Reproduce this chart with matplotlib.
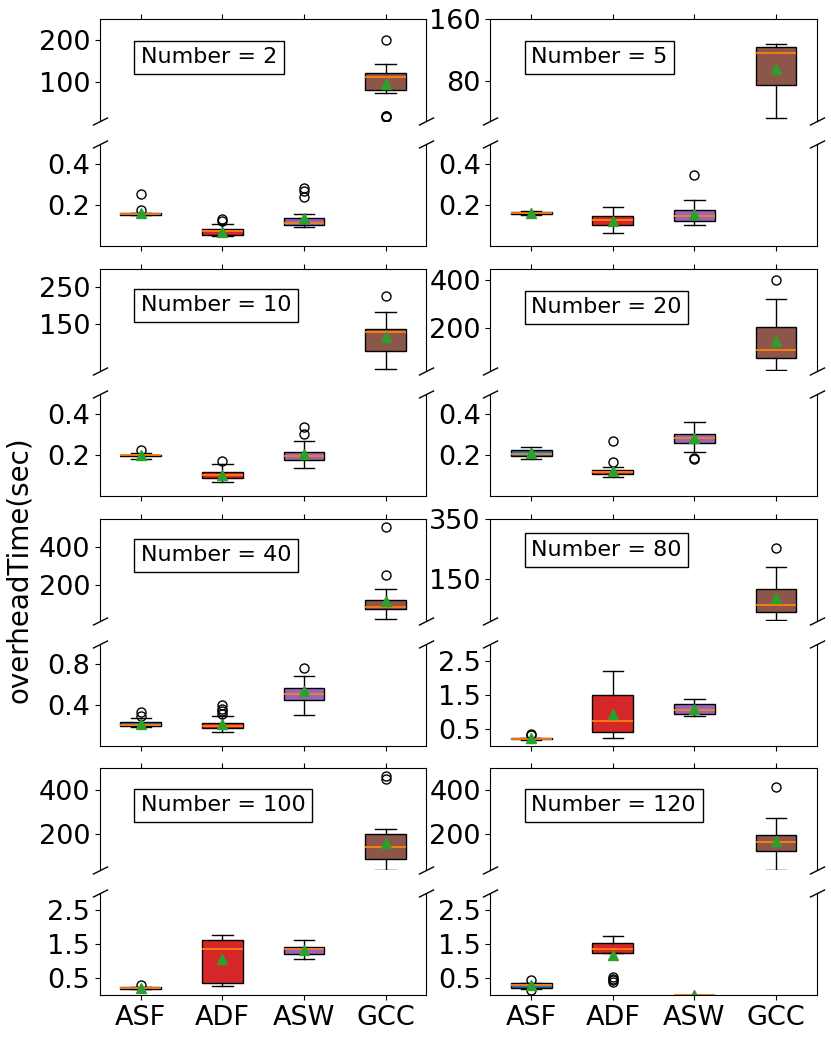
## Broken-axis boxplots of overhead time

import matplotlib
matplotlib.use('Agg')
import matplotlib.pyplot as plt

categories = ['ASF', 'ADF', 'ASW', 'GCC']
numbers = [2, 5, 10, 20, 40, 80, 100, 120]
box_colors = ['tab:blue', 'tab:red', 'tab:purple', 'tab:brown']

# box statistics per panel, one value per category (ASF, ADF, ASW, GCC)
q1 = [[0.152, 0.054, 0.103, 81.6],
      [0.155, 0.099, 0.120, 76.0],
      [0.193, 0.086, 0.173, 78.5],
      [0.195, 0.104, 0.257, 74.4],
      [0.193, 0.171, 0.450, 73.0],
      [0.18, 0.40, 0.94, 42.2],
      [0.20, 0.37, 1.23, 89.0],
      [0.23, 1.26, 0.0, 126.0]]
med = [[0.155, 0.070, 0.111, 113.8],
       [0.160, 0.127, 0.144, 116.0],
       [0.197, 0.100, 0.192, 129.5],
       [0.206, 0.115, 0.280, 105.0],
       [0.206, 0.194, 0.505, 87.0],
       [0.20, 0.72, 1.05, 66.5],
       [0.23, 1.36, 1.36, 144.0],
       [0.30, 1.37, 0.0, 165.0]]
q3 = [[0.158, 0.083, 0.135, 121.7],
      [0.165, 0.144, 0.173, 123.8],
      [0.200, 0.118, 0.216, 137.4],
      [0.224, 0.125, 0.302, 202.7],
      [0.228, 0.219, 0.562, 121.7],
      [0.22, 1.49, 1.22, 117.0],
      [0.25, 1.62, 1.43, 200.0],
      [0.37, 1.55, 0.0, 197.0]]
whislo = [[0.150, 0.045, 0.091, 75.6],
          [0.150, 0.064, 0.099, 33.4],
          [0.180, 0.069, 0.137, 29.5],
          [0.177, 0.089, 0.213, 24.0],
          [0.180, 0.133, 0.298, 22.0],
          [0.17, 0.23, 0.86, 18.0],
          [0.19, 0.28, 1.07, 38.0],
          [0.20, 1.25, 0.0, 38.0]]
whishi = [[0.160, 0.104, 0.155, 143.0],
          [0.170, 0.190, 0.224, 127.9],
          [0.210, 0.156, 0.268, 182.0],
          [0.240, 0.138, 0.362, 322.5],
          [0.267, 0.289, 0.686, 179.0],
          [0.23, 2.18, 1.37, 189.6],
          [0.26, 1.78, 1.63, 225.0],
          [0.38, 1.76, 0.0, 272.0]]
means = [[0.162, 0.066, 0.137, 97.0],
         [0.162, 0.123, 0.155, 96.4],
         [0.200, 0.100, 0.205, 116.0],
         [0.210, 0.120, 0.280, 145.0],
         [0.210, 0.210, 0.530, 118.0],
         [0.22, 0.94, 1.06, 88.0],
         [0.22, 1.06, 1.33, 160.0],
         [0.30, 1.20, 0.0, 168.0]]
fliers = [[[0.176, 0.251], [0.123, 0.131], [0.238, 0.267, 0.284], [18.0, 20.0, 22.0, 200.7]],
          [[], [], [0.347], []],
          [[0.224], [0.168], [0.300, 0.334], [226.0]],
          [[], [0.167, 0.266], [0.180, 0.185], [400.0]],
          [[0.29, 0.33], [0.31, 0.34, 0.36, 0.40], [0.758], [255.0, 505.0]],
          [[0.30, 0.33], [], [], [254.0]],
          [[0.30], [], [], [452.0, 464.0]],
          [[0.17, 0.45], [0.40, 0.45, 0.48, 0.55], [], [415.0]]]

# axis ranges and ticks for the upper (GCC) and lower part of each panel
top_ylim = [(10, 250), (30, 160), (25, 300), (20, 450), (15, 550), (15, 350), (35, 500), (35, 500)]
top_ticks = [[100, 200], [80, 160], [150, 250], [200, 400], [200, 400], [150, 350], [200, 400], [200, 400]]
bot_ylim = [(0, 0.5), (0, 0.5), (0, 0.5), (0, 0.5), (0, 1.0), (0, 3), (0, 3), (0, 3)]
bot_ticks = [[0.2, 0.4], [0.2, 0.4], [0.2, 0.4], [0.2, 0.4], [0.4, 0.8],
             [0.5, 1.5, 2.5], [0.5, 1.5, 2.5], [0.5, 1.5, 2.5]]
label_y = [0.62, 0.62, 0.64, 0.62, 0.64, 0.69, 0.64, 0.64]

fig, axes = plt.subplots(8, 2, figsize=(8.31, 10.38), dpi=100)
fig.subplots_adjust(left=0.1203, right=0.983, top=0.982, bottom=0.041,
                    wspace=0.196, hspace=0.225)

positions = [1, 2, 3, 4]
brk = dict(marker=[(-1, -0.5), (1, 0.5)], markersize=11, linestyle='none',
           color='k', mec='k', mew=1, clip_on=False)


def draw_boxes(ax, stats, pos, colors):
    bp = ax.bxp(stats, positions=pos, widths=0.5, patch_artist=True,
                showmeans=True, manage_ticks=False,
                medianprops=dict(color='C1', linewidth=1.3),
                meanprops=dict(marker='^', markerfacecolor='C2',
                               markeredgecolor='C2', markersize=7.5),
                flierprops=dict(marker='o', markerfacecolor='none',
                                markeredgecolor='black', markersize=6.5))
    for patch, col in zip(bp['boxes'], colors):
        patch.set_facecolor(col)
        patch.set_edgecolor('black')


for i, n in enumerate(numbers):
    g, c = i // 2, i % 2
    ax_top = axes[2 * g, c]
    ax_bot = axes[2 * g + 1, c]

    stats = []
    for j in range(4):
        stats.append(dict(med=med[i][j], q1=q1[i][j], q3=q3[i][j],
                          whislo=whislo[i][j], whishi=whishi[i][j],
                          mean=means[i][j], fliers=fliers[i][j]))

    # GCC lives in the upper part, the other three in the lower part
    draw_boxes(ax_top, stats[3:], positions[3:], box_colors[3:])
    draw_boxes(ax_bot, stats[:3], positions[:3], box_colors[:3])

    for ax in (ax_top, ax_bot):
        ax.set_xlim(0.5, 4.5)
        ax.tick_params(labelsize=19.5)

    ax_top.set_ylim(*top_ylim[i])
    ax_top.set_yticks(top_ticks[i])
    ax_bot.set_ylim(*bot_ylim[i])
    ax_bot.set_yticks(bot_ticks[i])

    # broken axis look
    ax_top.spines['bottom'].set_visible(False)
    ax_bot.spines['top'].set_visible(False)
    ax_top.xaxis.tick_top()
    ax_top.set_xticks(positions, [])
    ax_bot.xaxis.tick_bottom()
    if g == 3:
        ax_bot.set_xticks(positions, categories)
    else:
        ax_bot.set_xticks(positions, [])
    ax_top.plot([0, 1], [0, 0], transform=ax_top.transAxes, **brk)
    ax_bot.plot([0, 1], [1, 1], transform=ax_bot.transAxes, **brk)

    ax_top.text(0.125, label_y[i], 'Number = %d' % n, transform=ax_top.transAxes,
                fontsize=16, ha='left', va='center',
                bbox=dict(boxstyle='square,pad=0.3', fc='white', ec='black'))

axes[4, 0].set_ylabel('overheadTime(sec)', fontsize=20)

fig.savefig('out.png', dpi=100)
